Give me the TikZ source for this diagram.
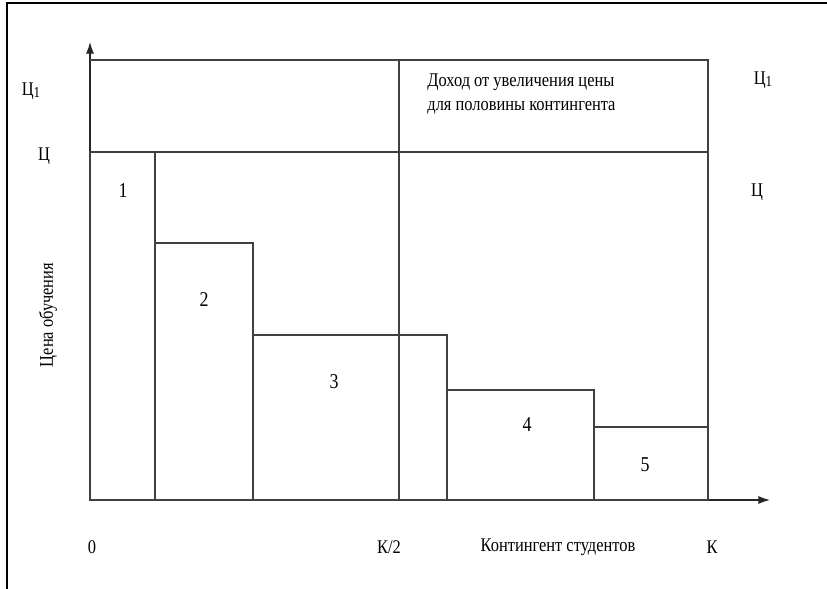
\documentclass[tikz,border=0pt]{standalone}
\usepackage{fontspec}
\setmainfont[FakeStretch=0.85]{Liberation Serif}
\usetikzlibrary{arrows.meta, positioning}

\begin{document}
\begin{tikzpicture}[x=0.03cm, y=-0.03cm, font=\fontsize{16.5}{21}\selectfont,
    ln/.style={draw=black!75, line width=1pt},
    axis/.style={draw=black!85, line width=1pt, -{Latex[length=10pt, width=7pt]}},
    lbl/.style={inner sep=1pt},
    num/.style={inner sep=1pt, font=\fontsize{18}{20}\selectfont}]
        \useasboundingbox (0,0) rectangle (827,589);
        % Frame
        \draw[line width=1.4pt] (7,589) -- (7,3) -- (827,3);

        % Axes
        \coordinate (o) at (90,500);
        \coordinate (ytip) at (90,42);
        \coordinate (xtip) at (770,500);
        \draw[axis] (o) -- (ytip);
        \draw[axis] (o) -- (xtip);

        % Price levels and half of the contingent
        \coordinate (c1l) at (90,60);
        \coordinate (c1r) at (708,60);
        \coordinate (cl) at (90,152);
        \coordinate (cr) at (708,152);
        \coordinate (kr) at (708,500);
        \coordinate (ht) at (399,60);
        \coordinate (hb) at (399,500);
        \draw[ln] (c1l) -- (c1r) -- (kr);
        \draw[ln] (cl) -- (cr);
        \draw[ln] (ht) -- (hb);

        % Bars
        \draw[ln] (90,152) rectangle (155,500);
        \draw[ln] (155,243) rectangle (253,500);
        \draw[ln] (253,335) rectangle (447,500);
        \draw[ln] (447,390) rectangle (594,500);
        \draw[ln] (594,427) rectangle (708,500);
        \node[num] (n1) at (123,191) {1};
        \node[num] (n2) at (204,300) {2};
        \node[num] (n3) at (334,382) {3};
        \node[num] (n4) at (527,425) {4};
        \node[num] (n5) at (645,465) {5};

        % Prices
        \node[lbl] (c1a) at (31,91) {Ц\raisebox{-2pt}{\fontsize{13}{13}\selectfont 1}};
        \node[lbl] (c1b) at (763,80) {Ц\raisebox{-2pt}{\fontsize{13}{13}\selectfont 1}};
        \node[lbl] (ca) at (44,156) {Ц};
        \node[lbl] (cb) at (757,192) {Ц};
        \node[lbl, rotate=90] (price) at (48,315) {Цена обучения};

        % Income
        \node[lbl, align=left, anchor=north west] (inc) at (426,72)
            {Доход от увеличения цены\\для половины контингента};

        % Contingent
        \node[lbl] (k0) at (92,547) {0};
        \node[lbl] (k2) at (389,547) {К/2};
        \node[lbl] (kname) at (558,547) {Контингент студентов};
        \node[lbl] (kk) at (712,547) {К};
      \end{tikzpicture}
\end{document}
